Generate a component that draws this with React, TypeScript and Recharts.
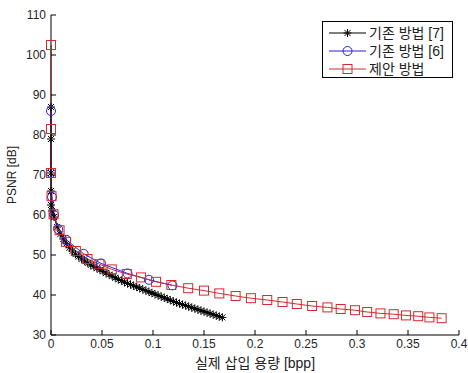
import { ComposedChart, Line, XAxis, YAxis } from 'recharts';

// values
const seriesNames = ['기존 방법 [7]', '기존 방법 [6]', '제안 방법'];
const seriesColors = ['#000000', '#2424d8', '#d42a30'];

const blackX = [
  0, 0, 0, 0, 0, 0.001, 0.003, 0.006, 0.009, 0.012, 0.015, 0.018, 0.021, 0.024, 0.027, 0.03,
  0.033, 0.036, 0.039, 0.042, 0.045, 0.048, 0.051, 0.054, 0.057, 0.06, 0.063, 0.066, 0.069,
  0.072, 0.075, 0.078, 0.081, 0.084, 0.087, 0.09, 0.093, 0.096, 0.099, 0.102, 0.105, 0.108,
  0.111, 0.114, 0.117, 0.12, 0.123, 0.126, 0.129, 0.132, 0.135, 0.138, 0.141, 0.144, 0.147,
  0.15, 0.153, 0.156, 0.159, 0.162, 0.165, 0.168,
];
const blackY = [
  87, 79, 70.5, 66, 62.5, 61, 59.5, 57, 55.2, 54, 52.8, 51.8, 51, 50.2, 49.6, 49,
  48.5, 48, 47.5, 47.1, 46.7, 46.3, 45.9, 45.5, 45.1, 44.7, 44.3, 43.9, 43.6,
  43.2, 42.9, 42.6, 42.3, 42, 41.7, 41.4, 41.1, 40.8, 40.5, 40.2, 39.9, 39.6,
  39.3, 39, 38.7, 38.4, 38.1, 37.85, 37.6, 37.35, 37.1, 36.85, 36.6, 36.35, 36.1,
  35.85, 35.6, 35.35, 35.1, 34.85, 34.6, 34.4,
];

const blueX = [0, 0, 0.001, 0.003, 0.007, 0.015, 0.032, 0.049, 0.075, 0.096, 0.119];
const blueY = [86, 70.5, 64.5, 60, 56.5, 53.8, 50.3, 47.9, 45.4, 43.8, 42.4];

const redX = [
  0, 0, 0, 0.0005, 0.0025, 0.0084, 0.0147, 0.0244, 0.0358, 0.0475, 0.0596, 0.0743, 0.0883,
  0.103, 0.118, 0.1345, 0.15, 0.165, 0.181, 0.196, 0.212, 0.227, 0.241, 0.256, 0.271, 0.284,
  0.298, 0.31, 0.323, 0.336, 0.348, 0.36, 0.371, 0.383,
];
const redY = [
  102.5, 81.5, 70.5, 64.7, 60.2, 56.2, 53.3, 51, 49, 47.7, 46.4, 45.25, 44.4,
  43.3, 42.5, 41.7, 41.1, 40.4, 39.75, 39.2, 38.75, 38.25, 37.75, 37.25, 36.9, 36.5,
  36.2, 35.75, 35.4, 35.2, 34.9, 34.7, 34.4, 34.2,
];

const xTicks = [0, 0.05, 0.1, 0.15, 0.2, 0.25, 0.3, 0.35, 0.4];
const yTicks = [30, 40, 50, 60, 70, 80, 90, 100, 110];

const toRows = (xs: number[], ys: number[]) => xs.map((x, i) => ({ x, y: ys[i] }));
const blackData = toRows(blackX, blackY);
const blueData = toRows(blueX, blueY);
const redData = toRows(redX, redY);

const Star = ({ cx, cy, color }: any) => (
  <g stroke={color} strokeWidth={1}>
    <line x1={cx - 4} y1={cy} x2={cx + 4} y2={cy} />
    <line x1={cx} y1={cy - 4} x2={cx} y2={cy + 4} />
    <line x1={cx - 3} y1={cy - 3} x2={cx + 3} y2={cy + 3} />
    <line x1={cx - 3} y1={cy + 3} x2={cx + 3} y2={cy - 3} />
  </g>
);
const Circle = ({ cx, cy, color }: any) => (
  <circle cx={cx} cy={cy} r={4.5} fill="none" stroke={color} strokeWidth={1} />
);
const Square = ({ cx, cy, color }: any) => (
  <rect x={cx - 4.5} y={cy - 4.5} width={9} height={9} fill="none" stroke={color} strokeWidth={1} />
);
const markers = [Star, Circle, Square];

const tickStyle = { fontSize: 12, fill: '#262626', fontFamily: '"Liberation Sans", Arial, sans-serif' };

export default function App() {
  const datasets = [blackData, blueData, redData];
  return (
    <div style={{ position: 'absolute', left: 0, top: 0, width: 468, height: 373, background: '#fff' }}>
      <ComposedChart width={468} height={373} margin={{ top: 15, right: 9, left: 0, bottom: 0 }}>
        <XAxis
          dataKey="x"
          type="number"
          domain={[0, 0.4]}
          ticks={xTicks}
          height={38}
          tickSize={-5}
          tickMargin={9}
          tick={tickStyle}
          stroke="#000"
          tickFormatter={(v: number) => String(v)}
        />
        <XAxis
          xAxisId="top"
          orientation="top"
          dataKey="x"
          type="number"
          domain={[0, 0.4]}
          ticks={xTicks}
          allowDataOverflow
          height={0}
          tickSize={-5}
          tick={false}
          stroke="#000"
        />
        <YAxis
          type="number"
          domain={[30, 110]}
          ticks={yTicks}
          width={51}
          tickSize={-5}
          tickMargin={10}
          tick={tickStyle}
          stroke="#000"
        />
        <YAxis
          yAxisId="right"
          orientation="right"
          type="number"
          domain={[30, 110]}
          ticks={yTicks}
          allowDataOverflow
          width={0}
          tickSize={-5}
          tick={false}
          stroke="#000"
        />
        {datasets.map((d, i) => {
          const Marker = markers[i];
          return (
            <Line
              key={seriesNames[i]}
              data={d}
              dataKey="y"
              type="linear"
              stroke={seriesColors[i]}
              strokeWidth={1}
              isAnimationActive={false}
              dot={(p: any) => <Marker key={`${i}-${p.index}`} cx={p.cx} cy={p.cy} color={seriesColors[i]} />}
              activeDot={false}
            />
          );
        })}
      </ComposedChart>

      <div
        style={{
          position: 'absolute', left: 322, top: 21, width: 131, height: 57, boxSizing: 'border-box',
          border: '1px solid #000', background: '#fff',
          fontFamily: '"Liberation Sans", "Noto Sans CJK KR", sans-serif', fontSize: 14, color: '#222',
        }}
      >
        {seriesNames.map((name, i) => {
          const Marker = markers[i];
          return (
            <div key={name} style={{ position: 'absolute', left: 0, top: 2 + i * 18, height: 18, display: 'flex', alignItems: 'center' }}>
              <svg width={46} height={18}>
                <line x1={6} y1={9} x2={43} y2={9} stroke={seriesColors[i]} strokeWidth={1} />
                <Marker cx={24.5} cy={9} color={seriesColors[i]} />
              </svg>
              <span style={{ lineHeight: '18px', whiteSpace: 'nowrap' }}>{name}</span>
            </div>
          );
        })}
      </div>

      <div
        style={{
          position: 'absolute', left: 150, width: 210, top: 354, textAlign: 'center',
          fontFamily: '"Liberation Sans", "Noto Sans CJK KR", sans-serif', fontSize: 14, color: '#222', lineHeight: '18px',
        }}
      >
        실제 삽입 용량 [bpp]
      </div>
      <div
        style={{
          position: 'absolute', left: 12, top: 175, transform: 'translate(-50%, -50%) rotate(-90deg)',
          fontFamily: '"Liberation Sans", Arial, sans-serif', fontSize: 12, color: '#222', whiteSpace: 'nowrap',
        }}
      >
        PSNR [dB]
      </div>
    </div>
  );
}
